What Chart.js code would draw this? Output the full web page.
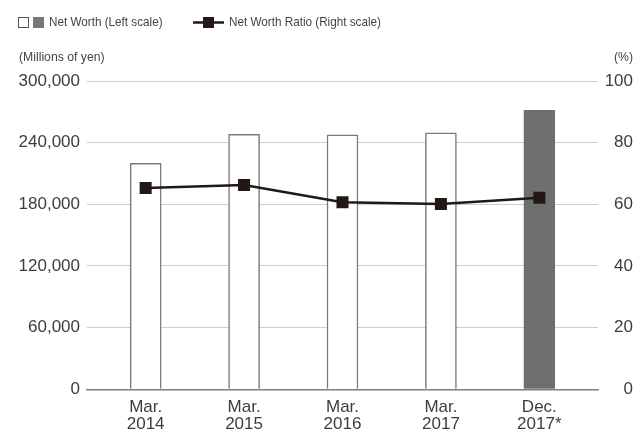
<!DOCTYPE html>
<html>
<head>
<meta charset="utf-8">
<script src="https://cdn.jsdelivr.net/npm/chart.js@4/dist/chart.umd.min.js"></script>
<style>
  body { margin: 0; background: #fff; }
</style>
</head>
<body>
<canvas id="graficoPatrimonio" width="640" height="432"></canvas>
<script>
// ==========================================
// DATOS
// ==========================================
const periodos = [['Mar.', '2014'], ['Mar.', '2015'], ['Mar.', '2016'], ['Mar.', '2017'], ['Dec.', '2017*']];
const patrimonio = [220000, 248000, 247500, 249500, 271500];   // millones de yenes
const ratioPatrimonio = [65.3, 66.3, 60.7, 60.1, 62.1];        // %
const ticksIzq = [0, 60000, 120000, 180000, 240000, 300000];
const ticksDer = [0, 20, 40, 60, 80, 100];
const textosLeyenda = ['Net Worth (Left scale)', 'Net Worth Ratio (Right scale)'];
const unidadIzq = '(Millions of yen)';
const unidadDer = '(%)';

const NEGRO = '#231815';
const TEXTO = '#3d3d3d';

Chart.defaults.font.family = "'Liberation Sans', Arial, sans-serif";

// texto con un poco de compresión horizontal
function textoAngosto(ctx, texto, x, y, escala, alinear) {
    ctx.save();
    ctx.translate(x, y);
    ctx.scale(escala, 1);
    ctx.textAlign = alinear || 'left';
    ctx.fillText(texto, 0, 0);
    ctx.restore();
}

// --- Leyenda y unidades de los ejes ---
const pluginLeyenda = {
    id: 'leyendaPropia',
    afterDraw(chart) {
        const ctx = chart.ctx;
        ctx.save();
        ctx.font = "13px 'Liberation Sans', Arial, sans-serif";
        ctx.textBaseline = 'middle';

        // cuadro blanco + cuadro gris
        ctx.strokeStyle = '#555';
        ctx.lineWidth = 1;
        ctx.fillStyle = '#fff';
        ctx.fillRect(18.5, 17.5, 10, 10);
        ctx.strokeRect(18.5, 17.5, 10, 10);
        ctx.fillStyle = '#777';
        ctx.fillRect(33, 17, 11, 11);

        // línea con marcador
        ctx.strokeStyle = NEGRO;
        ctx.lineWidth = 2.5;
        ctx.beginPath();
        ctx.moveTo(193, 22.5);
        ctx.lineTo(224, 22.5);
        ctx.stroke();
        ctx.fillStyle = NEGRO;
        ctx.fillRect(203, 17, 11, 11);

        ctx.fillStyle = '#444';
        textoAngosto(ctx, textosLeyenda[0], 49, 22.5, 0.9);
        textoAngosto(ctx, textosLeyenda[1], 229, 22.5, 0.9);
        textoAngosto(ctx, unidadIzq, 19, 57, 0.94);
        textoAngosto(ctx, unidadDer, 633, 57, 0.94, 'right');
        ctx.restore();
    }
};

const ultimo = patrimonio.length - 1;

new Chart(document.getElementById('graficoPatrimonio'), {
    type: 'bar',
    data: {
        datasets: [
            {
                type: 'line',
                label: textosLeyenda[1],
                data: ratioPatrimonio.map((v, i) => ({ x: i, y: v })),
                yAxisID: 'y1',
                borderColor: NEGRO,
                borderWidth: 2.5,
                pointStyle: 'rect',
                pointRadius: 8.5,
                pointBorderWidth: 0,
                pointBackgroundColor: NEGRO,
                tension: 0,
                order: 0
            },
            {
                label: textosLeyenda[0],
                data: patrimonio.map((v, i) => ({ x: i, y: v })),
                yAxisID: 'y',
                backgroundColor: c => c.dataIndex === ultimo ? '#6f6f6f' : '#fff',
                borderColor: c => c.dataIndex === ultimo ? '#6f6f6f' : '#7a7a7a',
                borderWidth: 1.5,
                barThickness: 31,
                order: 1
            }
        ]
    },
    options: {
        responsive: false,
        animation: false,
        devicePixelRatio: 1,
        layout: { padding: { top: 81, right: 7, bottom: 0, left: 0 } },
        plugins: { legend: { display: false }, tooltip: { enabled: false } },
        scales: {
            x: {
                type: 'linear',
                offset: false,
                min: -0.596,
                max: ultimo + 0.596,
                afterBuildTicks: s => { s.ticks = periodos.map((p, i) => ({ value: i })); },
                afterFit: s => { s.height = 42.7; },
                grid: { display: false, drawTicks: false },
                border: { display: true, color: '#7f7f7f', width: 1.5 },
                ticks: {
                    callback: v => periodos[v],
                    padding: 10,
                    color: TEXTO,
                    maxRotation: 0,
                    autoSkip: false,
                    font: { size: 17, lineHeight: 1 }
                }
            },
            y: {
                position: 'left',
                min: 0,
                max: 300000,
                afterBuildTicks: s => { s.ticks = ticksIzq.map(v => ({ value: v })); },
                afterFit: s => { s.width = 87; },
                grid: {
                    drawTicks: false,
                    color: c => c.tick && c.tick.value === 0 ? 'rgba(0,0,0,0)' : '#cdcdcd',
                    lineWidth: 1
                },
                border: { display: false },
                ticks: {
                    padding: 7,
                    color: TEXTO,
                    font: { size: 17 },
                    callback: v => v.toLocaleString('en-US')
                }
            },
            y1: {
                position: 'right',
                min: 0,
                max: 100,
                afterBuildTicks: s => { s.ticks = ticksDer.map(v => ({ value: v })); },
                afterFit: s => { s.width = 35; },
                grid: { display: false, drawTicks: false },
                border: { display: false },
                ticks: {
                    padding: 0,
                    crossAlign: 'far',
                    color: TEXTO,
                    font: { size: 17 }
                }
            }
        }
    },
    plugins: [pluginLeyenda]
});
</script>
</body>
</html>
